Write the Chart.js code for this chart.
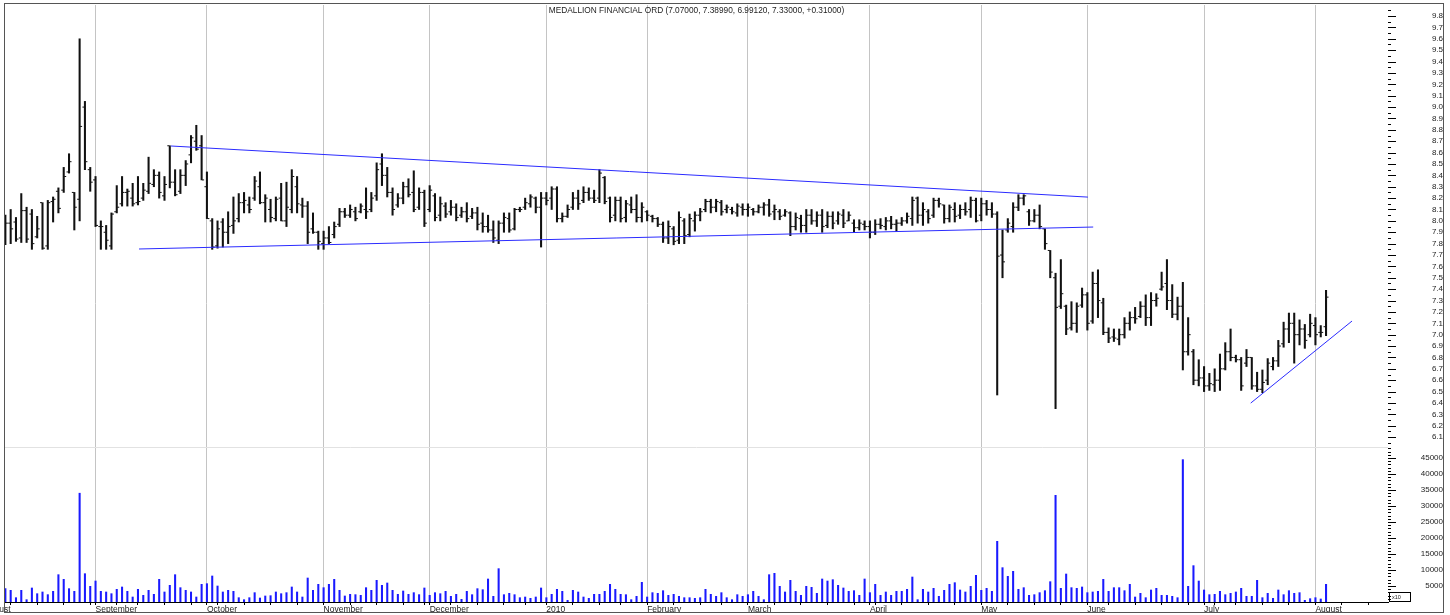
<!DOCTYPE html>
<html>
<head>
<meta charset="utf-8">
<script src="https://cdn.jsdelivr.net/npm/chart.js@4.4.1/dist/chart.umd.min.js"></script>
<style>
    html, body { margin: 0; padding: 0; background: #fff; }
</style>
</head>
<body>
<canvas id="myChart" width="1450" height="615"></canvas>
<script>
const stockName = "MEDALLION FINANCIAL ORD";

// one entry per trading day, 7 Aug 2009 .. 4 Aug 2010
const opens = [
    8.00, 7.98, 7.99, 7.85, 8.09, 8.06, 7.86, 8.16, 7.78, 8.17,
    8.26, 8.27, 8.43, 8.25, 8.19, 9.00, 8.45, 8.36, 7.95, 7.90,
    7.78, 8.08, 8.15, 8.25, 8.20, 8.16, 8.20, 8.26, 8.32, 8.40,
    8.22, 8.66, 8.34, 8.26, 8.40, 8.58, 8.70, 8.66, 8.30, 8.00,
    7.78, 7.99, 7.90, 7.96, 8.02, 8.16, 8.14, 8.20, 8.30, 8.16,
    8.10, 8.02, 8.20, 8.00, 8.10, 8.30, 8.14, 8.13, 7.93, 7.90,
    7.80, 7.85, 7.88, 7.97, 8.08, 8.05, 8.08, 8.08, 8.10, 8.10,
    8.22, 8.50, 8.40, 8.25, 8.14, 8.20, 8.30, 8.25, 8.12, 8.25,
    8.10, 8.22, 8.05, 8.13, 8.08, 8.12, 8.05, 8.08, 8.04, 8.07,
    7.98, 7.95, 7.92, 7.83, 7.98, 8.02, 7.93, 8.10, 8.12, 8.15,
    8.20, 8.12, 8.20, 8.20, 8.28, 8.02, 8.04, 8.12, 8.20, 8.18,
    8.25, 8.20, 8.20, 8.38, 8.20, 8.05, 8.18, 8.03, 8.14, 8.10,
    8.03, 8.08, 8.04, 8.02, 7.97, 7.85, 7.93, 7.83, 8.00, 7.88,
    8.00, 8.05, 8.10, 8.17, 8.12, 8.16, 8.10, 8.10, 8.07, 8.12,
    8.10, 8.10, 8.08, 8.12, 8.14, 8.08, 8.08, 8.05, 8.07, 7.95,
    8.02, 7.96, 8.05, 8.00, 8.05, 7.96, 8.04, 8.00, 8.05, 8.00,
    7.98, 7.94, 7.97, 7.95, 7.90, 7.97, 7.95, 8.00, 7.97, 7.98,
    8.00, 8.02, 8.20, 8.05, 8.08, 8.05, 8.18, 8.14, 8.02, 8.10,
    8.05, 8.10, 8.10, 8.18, 8.05, 8.15, 8.10, 8.06, 7.70, 7.92,
    7.95, 8.12, 8.20, 8.08, 8.00, 8.05, 7.93, 7.74, 7.50, 7.25,
    7.25, 7.06, 7.10, 7.26, 7.35, 7.12, 7.45, 7.28, 7.02, 6.98,
    6.96, 7.00, 7.10, 7.15, 7.16, 7.25, 7.15, 7.30, 7.40, 7.45,
    7.30, 7.18, 7.25, 6.85, 6.85, 6.60, 6.62, 6.55, 6.56, 6.60,
    6.70, 6.85, 6.80, 6.78, 6.75, 6.80, 6.55, 6.52, 6.60, 6.72,
    6.77, 6.92, 7.05, 7.10, 7.00, 7.05, 7.00, 7.08, 7.02, 7.07
];
const highs = [
    8.05, 8.10, 8.03, 8.24, 8.12, 8.10, 8.04, 8.16, 8.18, 8.21,
    8.29, 8.47, 8.59, 8.25, 9.60, 9.05, 8.47, 8.39, 8.00, 7.96,
    8.07, 8.31, 8.39, 8.28, 8.33, 8.39, 8.33, 8.56, 8.45, 8.43,
    8.39, 8.66, 8.45, 8.45, 8.53, 8.75, 8.84, 8.75, 8.43, 8.02,
    8.00, 8.02, 8.08, 8.21, 8.24, 8.25, 8.21, 8.39, 8.43, 8.23,
    8.19, 8.21, 8.33, 8.34, 8.45, 8.39, 8.20, 8.17, 8.07, 7.91,
    7.91, 7.95, 7.99, 8.11, 8.11, 8.14, 8.12, 8.15, 8.29, 8.25,
    8.51, 8.59, 8.47, 8.29, 8.24, 8.34, 8.37, 8.44, 8.29, 8.27,
    8.31, 8.24, 8.21, 8.16, 8.18, 8.15, 8.12, 8.16, 8.11, 8.12,
    8.07, 8.05, 8.00, 8.00, 8.07, 8.07, 8.11, 8.12, 8.20, 8.23,
    8.21, 8.25, 8.25, 8.30, 8.30, 8.07, 8.14, 8.25, 8.27, 8.30,
    8.29, 8.27, 8.45, 8.39, 8.21, 8.21, 8.21, 8.18, 8.21, 8.23,
    8.16, 8.09, 8.05, 8.03, 7.99, 8.00, 7.95, 8.08, 8.02, 8.06,
    8.08, 8.11, 8.19, 8.19, 8.19, 8.18, 8.14, 8.12, 8.15, 8.15,
    8.15, 8.11, 8.14, 8.16, 8.19, 8.14, 8.10, 8.10, 8.08, 8.07,
    8.05, 8.10, 8.10, 8.08, 8.10, 8.08, 8.08, 8.08, 8.10, 8.08,
    8.01, 8.01, 8.00, 8.00, 8.01, 8.02, 8.03, 8.04, 8.01, 8.03,
    8.07, 8.21, 8.21, 8.16, 8.10, 8.20, 8.20, 8.14, 8.14, 8.16,
    8.14, 8.16, 8.21, 8.20, 8.20, 8.18, 8.16, 8.08, 7.92, 8.02,
    8.16, 8.23, 8.23, 8.10, 8.10, 8.14, 7.93, 7.74, 7.54, 7.66,
    7.26, 7.29, 7.28, 7.41, 7.37, 7.55, 7.57, 7.32, 7.06, 7.05,
    7.05, 7.15, 7.20, 7.24, 7.29, 7.35, 7.37, 7.36, 7.55, 7.66,
    7.44, 7.33, 7.46, 7.15, 6.87, 6.78, 6.72, 6.66, 6.70, 6.83,
    6.93, 7.05, 6.82, 6.80, 6.87, 6.80, 6.67, 6.69, 6.79, 6.80,
    6.95, 7.11, 7.19, 7.19, 7.13, 7.09, 7.18, 7.15, 7.08, 7.3899
];
const lows = [
    7.79, 7.80, 7.82, 7.81, 7.81, 7.75, 7.85, 7.75, 7.75, 7.99,
    8.07, 8.25, 8.42, 7.92, 8.00, 8.45, 8.26, 7.95, 7.75, 7.75,
    7.75, 8.07, 8.13, 8.13, 8.13, 8.14, 8.18, 8.24, 8.30, 8.20,
    8.18, 8.29, 8.22, 8.24, 8.31, 8.51, 8.62, 8.36, 8.02, 7.75,
    7.76, 7.77, 7.80, 7.89, 7.99, 8.07, 8.07, 8.18, 8.15, 7.99,
    7.99, 8.00, 8.00, 7.95, 8.07, 8.07, 8.03, 7.80, 7.89, 7.75,
    7.75, 7.80, 7.85, 7.95, 8.03, 8.03, 8.00, 8.07, 8.02, 8.08,
    8.18, 8.31, 8.21, 8.05, 8.12, 8.15, 8.21, 8.08, 8.10, 7.95,
    8.08, 8.00, 8.00, 8.03, 8.05, 8.00, 8.03, 7.99, 8.02, 7.92,
    7.90, 7.90, 7.81, 7.80, 7.90, 7.90, 7.92, 8.08, 8.10, 8.12,
    8.07, 7.77, 8.14, 8.10, 7.99, 7.99, 8.03, 8.10, 8.10, 8.16,
    8.18, 8.16, 8.16, 8.15, 7.99, 8.00, 7.99, 7.99, 8.07, 7.99,
    7.99, 8.00, 7.99, 7.95, 7.81, 7.80, 7.79, 7.80, 7.80, 7.86,
    7.91, 8.00, 8.08, 8.07, 8.08, 8.05, 8.07, 8.06, 8.04, 8.05,
    8.04, 8.05, 8.07, 8.05, 8.04, 8.01, 8.01, 8.04, 7.87, 7.92,
    7.90, 7.90, 7.97, 7.95, 7.90, 7.94, 7.93, 7.97, 7.94, 8.00,
    7.90, 7.92, 7.92, 7.85, 7.88, 7.93, 7.92, 7.93, 7.91, 7.96,
    7.98, 7.96, 7.98, 7.96, 7.98, 8.03, 8.12, 7.98, 7.99, 7.99,
    8.02, 8.05, 8.03, 7.99, 8.00, 8.05, 8.03, 6.47, 7.50, 7.90,
    7.90, 8.09, 8.14, 7.96, 7.99, 7.93, 7.75, 7.50, 6.35, 7.23,
    7.00, 7.04, 7.02, 7.24, 7.04, 7.10, 7.15, 7.00, 6.93, 6.94,
    6.91, 6.97, 7.04, 7.10, 7.15, 7.08, 7.08, 7.25, 7.39, 7.22,
    7.15, 7.13, 6.69, 6.82, 6.56, 6.55, 6.50, 6.51, 6.50, 6.51,
    6.69, 6.77, 6.76, 6.51, 6.72, 6.52, 6.50, 6.49, 6.56, 6.69,
    6.72, 6.89, 6.93, 6.75, 6.91, 6.88, 6.98, 6.91, 6.98, 6.9912
];
const closes = [
    7.98, 7.93, 7.84, 8.09, 7.84, 7.80, 7.93, 7.76, 8.16, 8.19,
    8.11, 8.39, 8.52, 8.12, 8.83, 8.52, 8.34, 7.96, 7.95, 7.83,
    8.06, 8.12, 8.25, 8.26, 8.15, 8.17, 8.27, 8.33, 8.40, 8.25,
    8.32, 8.34, 8.23, 8.40, 8.50, 8.73, 8.63, 8.36, 8.02, 7.77,
    7.93, 7.90, 7.95, 8.00, 8.16, 8.18, 8.10, 8.35, 8.16, 8.20,
    8.03, 8.19, 8.00, 8.12, 8.39, 8.15, 8.13, 7.90, 7.90, 7.82,
    7.85, 7.81, 7.95, 8.08, 8.05, 8.10, 8.02, 8.13, 8.08, 8.20,
    8.45, 8.40, 8.25, 8.10, 8.20, 8.30, 8.23, 8.10, 8.25, 7.98,
    8.27, 8.03, 8.15, 8.06, 8.12, 8.03, 8.08, 8.02, 8.07, 7.97,
    7.95, 7.92, 7.85, 7.98, 8.03, 7.92, 8.10, 8.10, 8.16, 8.21,
    8.12, 8.20, 8.18, 8.28, 8.02, 8.04, 8.10, 8.20, 8.15, 8.25,
    8.20, 8.18, 8.42, 8.17, 8.03, 8.18, 8.02, 8.15, 8.10, 8.03,
    8.12, 8.05, 8.02, 7.97, 7.85, 7.95, 7.82, 8.03, 7.87, 8.02,
    8.05, 8.08, 8.17, 8.12, 8.17, 8.08, 8.12, 8.08, 8.13, 8.10,
    8.12, 8.08, 8.12, 8.14, 8.06, 8.10, 8.04, 8.08, 7.95, 8.03,
    7.96, 8.05, 8.00, 8.05, 7.95, 8.04, 7.98, 8.06, 7.98, 8.05,
    7.94, 7.98, 7.95, 7.90, 7.97, 7.96, 8.00, 7.97, 7.98, 8.00,
    8.04, 8.18, 8.05, 8.10, 8.02, 8.18, 8.15, 8.02, 8.12, 8.04,
    8.10, 8.08, 8.18, 8.00, 8.15, 8.10, 8.06, 7.69, 7.64, 7.98,
    8.12, 8.20, 8.22, 8.00, 8.05, 7.95, 7.80, 7.55, 7.24, 7.36,
    7.05, 7.10, 7.25, 7.35, 7.10, 7.45, 7.30, 7.02, 6.97, 6.97,
    7.00, 7.10, 7.15, 7.14, 7.25, 7.15, 7.30, 7.32, 7.42, 7.30,
    7.18, 7.25, 6.85, 7.00, 6.60, 6.62, 6.55, 6.57, 6.60, 6.70,
    6.85, 6.80, 6.78, 6.55, 6.80, 6.55, 6.52, 6.58, 6.75, 6.77,
    6.90, 7.05, 7.10, 7.00, 7.05, 6.95, 7.10, 7.00, 7.02, 7.33
];
// volume as shown on the axis (x10)
const volumes = [
    4170, 3650, 1350, 3650, 730, 4380, 2600, 3130, 2300, 3330,
    8540, 7080, 4170, 3330, 34000, 8850, 4900, 6560, 3330, 3130,
    2600, 3960, 4690, 3330, 1560, 3960, 2080, 3650, 2400, 7080,
    3130, 5210, 8540, 4480, 3650, 3130, 1560, 5520, 5730, 8130,
    5000, 3130, 3650, 3330, 1350, 730, 1350, 2920, 1250, 1880,
    1980, 3130, 2600, 2920, 4690, 3130, 1560, 7500, 3650, 5520,
    4480, 5520, 7080, 3650, 1880, 2400, 2300, 2080, 4480, 3650,
    6770, 5210, 5940, 3650, 2400, 3440, 2400, 2920, 2300, 4380,
    2080, 2920, 2600, 3330, 1770, 2400, 830, 3330, 2290, 4170,
    3850, 7190, 1770, 10420, 2290, 2710, 2290, 1350, 1560, 1150,
    1560, 4380, 1350, 2400, 3960, 3330, 520, 3650, 3130, 1560,
    1150, 2400, 2400, 3330, 5520, 3960, 2400, 2290, 730, 1770,
    6150, 1560, 2920, 2710, 3540, 2080, 2400, 1770, 1350, 1350,
    1150, 1350, 3960, 2400, 1770, 2920, 1350, 730, 2290, 1770,
    2290, 3330, 1770, 730, 8540, 8960, 4900, 3130, 6770, 3330,
    2080, 4900, 4580, 2710, 7190, 6560, 6980, 5210, 4380, 3330,
    3540, 2080, 7190, 2920, 5520, 2080, 3130, 2080, 3330, 3330,
    3960, 7810, 730, 3960, 3130, 4270, 1770, 3650, 5520, 6040,
    3750, 3130, 4900, 8340, 3650, 4270, 3330, 18960, 10730, 8020,
    9590, 3960, 4480, 2080, 2290, 2920, 3540, 6350, 33340, 4270,
    8750, 4480, 4270, 4690, 2920, 3130, 3330, 7080, 3330, 4480,
    4480, 3540, 5520, 1560, 2710, 1350, 3750, 4270, 2080, 2080,
    1770, 1350, 44490, 4900, 11360, 6560, 3750, 2290, 2400, 3330,
    2290, 2710, 3130, 4270, 1770, 1770, 6770, 1350, 2710, 1150,
    3750, 2290, 3540, 2710, 2920, 520, 1040, 1350, 940, 5520
];

// x axis: index of the first trading day of each month, and of each week
const monthStarts = [-4, 17, 38, 60, 80, 102, 121, 140, 163, 184, 204, 226, 247];
const monthLabels = ["August", "September", "October", "November", "December", "2010",
    "February", "March", "April", "May", "June", "July", "August"];
const weekStarts = [1, 6, 11, 16, 21, 25, 30, 35, 40, 45, 50, 55, 60, 65, 70, 75, 79, 84, 89,
    94, 98, 102, 107, 112, 116, 121, 126, 131, 135, 140, 145, 150, 155, 160, 164, 169, 174,
    179, 184, 189, 194, 199, 204, 208, 213, 218, 223, 228, 232, 237, 242, 247, 252, 257];

// hand drawn trend lines [index, price]
const upperLine = [[31.2, 8.658], [204.1, 8.209]];
const lowerLine = [[25.2, 7.753], [205.1, 7.946]];
const riseLine = [[234.8, 6.399], [253.9, 7.12]];

const priceTicks = [];
for (let k = 121; k <= 197; k++) priceTicks.push(k / 20);
const volTicks = [];
for (let k = 1; k <= 48; k++) volTicks.push(k * 1000);

const xTicks = [...new Set(monthStarts.concat(weekStarts))].sort((a, b) => a - b);

const last = closes.length - 1;
const titleText = stockName + " (" + opens[last].toFixed(5) + ", " + highs[last].toFixed(5) + ", " +
    lows[last].toFixed(5) + ", " + closes[last].toFixed(5) + ", +" +
    (closes[last] - closes[last - 1]).toFixed(5) + ")";

const axisFont = { family: "'Liberation Sans', Arial, sans-serif", size: 8 };

const hlData = highs.map((h, i) => ({ x: i, y: [lows[i], h] }));
const openData = opens.map((o, i) => ({ x: i - 0.28, y: o }));
const closeData = closes.map((c, i) => ({ x: i + 0.28, y: c }));
const volData = volumes.map((v, i) => ({ x: i, y: v }));
const toPts = (arr) => arr.map((p) => ({ x: p[0], y: p[1] }));

const extras = {
    id: "extras",
    beforeDatasetsDraw(chart) {
        const { ctx, chartArea } = chart;
        const sy = Math.round(chart.scales.v.top) + 0.5;
        ctx.save();
        ctx.strokeStyle = "#e2e2e2";
        ctx.lineWidth = 1;
        ctx.beginPath();
        ctx.moveTo(chartArea.left, sy);
        ctx.lineTo(chartArea.right, sy);
        ctx.stroke();
        ctx.restore();
    },
    afterDraw(chart) {
        const { ctx, chartArea } = chart;
        ctx.save();
        // y tick marks, long ones next to labels
        ctx.strokeStyle = "#000";
        ctx.lineWidth = 1;
        ctx.beginPath();
        ["y", "v"].forEach((id) => {
            const s = chart.scales[id];
            s.ticks.forEach((t) => {
                const py = Math.round(s.getPixelForValue(t.value)) + 0.5;
                ctx.moveTo(s.left, py);
                ctx.lineTo(s.left + (t.label ? 8 : 3), py);
            });
        });
        ctx.stroke();

        // frame
        ctx.strokeStyle = "#555";
        ctx.strokeRect(4.5, 3.5, 1439, 609);

        // title
        ctx.fillStyle = "#222";
        ctx.font = "8.3px 'Liberation Sans', Arial, sans-serif";
        ctx.textAlign = "center";
        ctx.textBaseline = "middle";
        ctx.fillText(titleText, (chartArea.left + chartArea.right) / 2, 11);

        // volume multiplier box
        const bx = chartArea.right + 1.5;
        ctx.strokeStyle = "#000";
        ctx.strokeRect(bx, 592.5, 21, 9);
        ctx.font = "5.5px 'Liberation Sans', Arial, sans-serif";
        ctx.textAlign = "left";
        ctx.fillText("x10", bx + 2.5, 597.5);
        ctx.restore();
    },
};

const ctx = document.getElementById("myChart").getContext("2d");

const chart = new Chart(ctx, {
    type: "bar",
    data: {
        datasets: [
            {
                type: "line",
                data: toPts(upperLine),
                yAxisID: "y",
                borderColor: "#2b2bff",
                borderWidth: 1,
                pointRadius: 0,
            },
            {
                type: "line",
                data: toPts(lowerLine),
                yAxisID: "y",
                borderColor: "#2b2bff",
                borderWidth: 1,
                pointRadius: 0,
            },
            {
                type: "line",
                data: toPts(riseLine),
                yAxisID: "y",
                borderColor: "#2b2bff",
                borderWidth: 1,
                pointRadius: 0,
            },
            {
                type: "bar",
                data: hlData,
                yAxisID: "y",
                backgroundColor: "#111",
                barThickness: 1.4,
                grouped: false,
            },
            {
                type: "scatter",
                data: openData,
                yAxisID: "y",
                pointStyle: "line",
                pointRadius: 1,
                borderWidth: 1,
                borderColor: "#111",
            },
            {
                type: "scatter",
                data: closeData,
                yAxisID: "y",
                pointStyle: "line",
                pointRadius: 1,
                borderWidth: 1,
                borderColor: "#111",
            },
            {
                type: "bar",
                data: volData,
                yAxisID: "v",
                backgroundColor: "#1a1aff",
                barThickness: 1.4,
                grouped: false,
            },
        ],
    },
    options: {
        responsive: false,
        animation: false,
        events: [],
        layout: { padding: { left: 5, top: 5, right: 7, bottom: 2 } },
        plugins: {
            legend: { display: false },
            tooltip: { enabled: false },
        },
        scales: {
            x: {
                type: "linear",
                min: -0.07,
                max: 260.68,
                offset: false,
                afterBuildTicks: (s) => {
                    s.ticks = xTicks.map((v) => ({ value: v }));
                },
                afterFit: (s) => {
                    s.height = 11;
                    s.paddingLeft = 0;
                    s.paddingRight = 0;
                },
                ticks: {
                    autoSkip: false,
                    maxRotation: 0,
                    minRotation: 0,
                    align: "start",
                    padding: 0,
                    color: "#222",
                    font: { family: "'Liberation Sans', Arial, sans-serif", size: 8.5 },
                    callback: (v) => {
                        const k = monthStarts.indexOf(v);
                        return k >= 0 ? monthLabels[k] : "";
                    },
                },
                grid: {
                    offset: false,
                    color: (c) => (c.tick && monthStarts.includes(c.tick.value) ? "#c4c4c4" : "rgba(0,0,0,0)"),
                    tickColor: "#000",
                    tickLength: 3,
                    lineWidth: 1,
                },
                border: { color: "#000" },
            },
            y: {
                type: "linear",
                position: "right",
                stack: "panes",
                stackWeight: 442,
                min: 6.013,
                max: 9.897,
                afterBuildTicks: (s) => {
                    s.ticks = priceTicks.map((v) => ({ value: v }));
                },
                afterFit: (s) => {
                    s.width = 55;
                    s.paddingTop = 0;
                    s.paddingBottom = 0;
                },
                ticks: {
                    autoSkip: false,
                    crossAlign: "far",
                    padding: 26,
                    color: "#222",
                    font: axisFont,
                    callback: (v) => {
                        const k = Math.round(v * 20);
                        return k % 2 === 0 && k >= 122 && k <= 196 ? (k / 20).toFixed(1) : "";
                    },
                },
                grid: { drawOnChartArea: false, tickLength: 9, tickColor: "rgba(0,0,0,0)" },
                border: { display: false },
            },
            v: {
                type: "linear",
                position: "right",
                stack: "panes",
                stackWeight: 155,
                min: 0,
                max: 48440,
                afterBuildTicks: (s) => {
                    s.ticks = volTicks.map((v) => ({ value: v }));
                },
                afterFit: (s) => {
                    s.width = 55;
                    s.paddingTop = 0;
                    s.paddingBottom = 0;
                },
                ticks: {
                    autoSkip: false,
                    crossAlign: "far",
                    padding: 15,
                    color: "#222",
                    font: axisFont,
                    callback: (v) => (v % 5000 === 0 ? String(v) : ""),
                },
                grid: { drawOnChartArea: false, tickLength: 9, tickColor: "rgba(0,0,0,0)" },
                border: { display: false },
            },
        },
    },
    plugins: [extras],
});
</script>
</body>
</html>
